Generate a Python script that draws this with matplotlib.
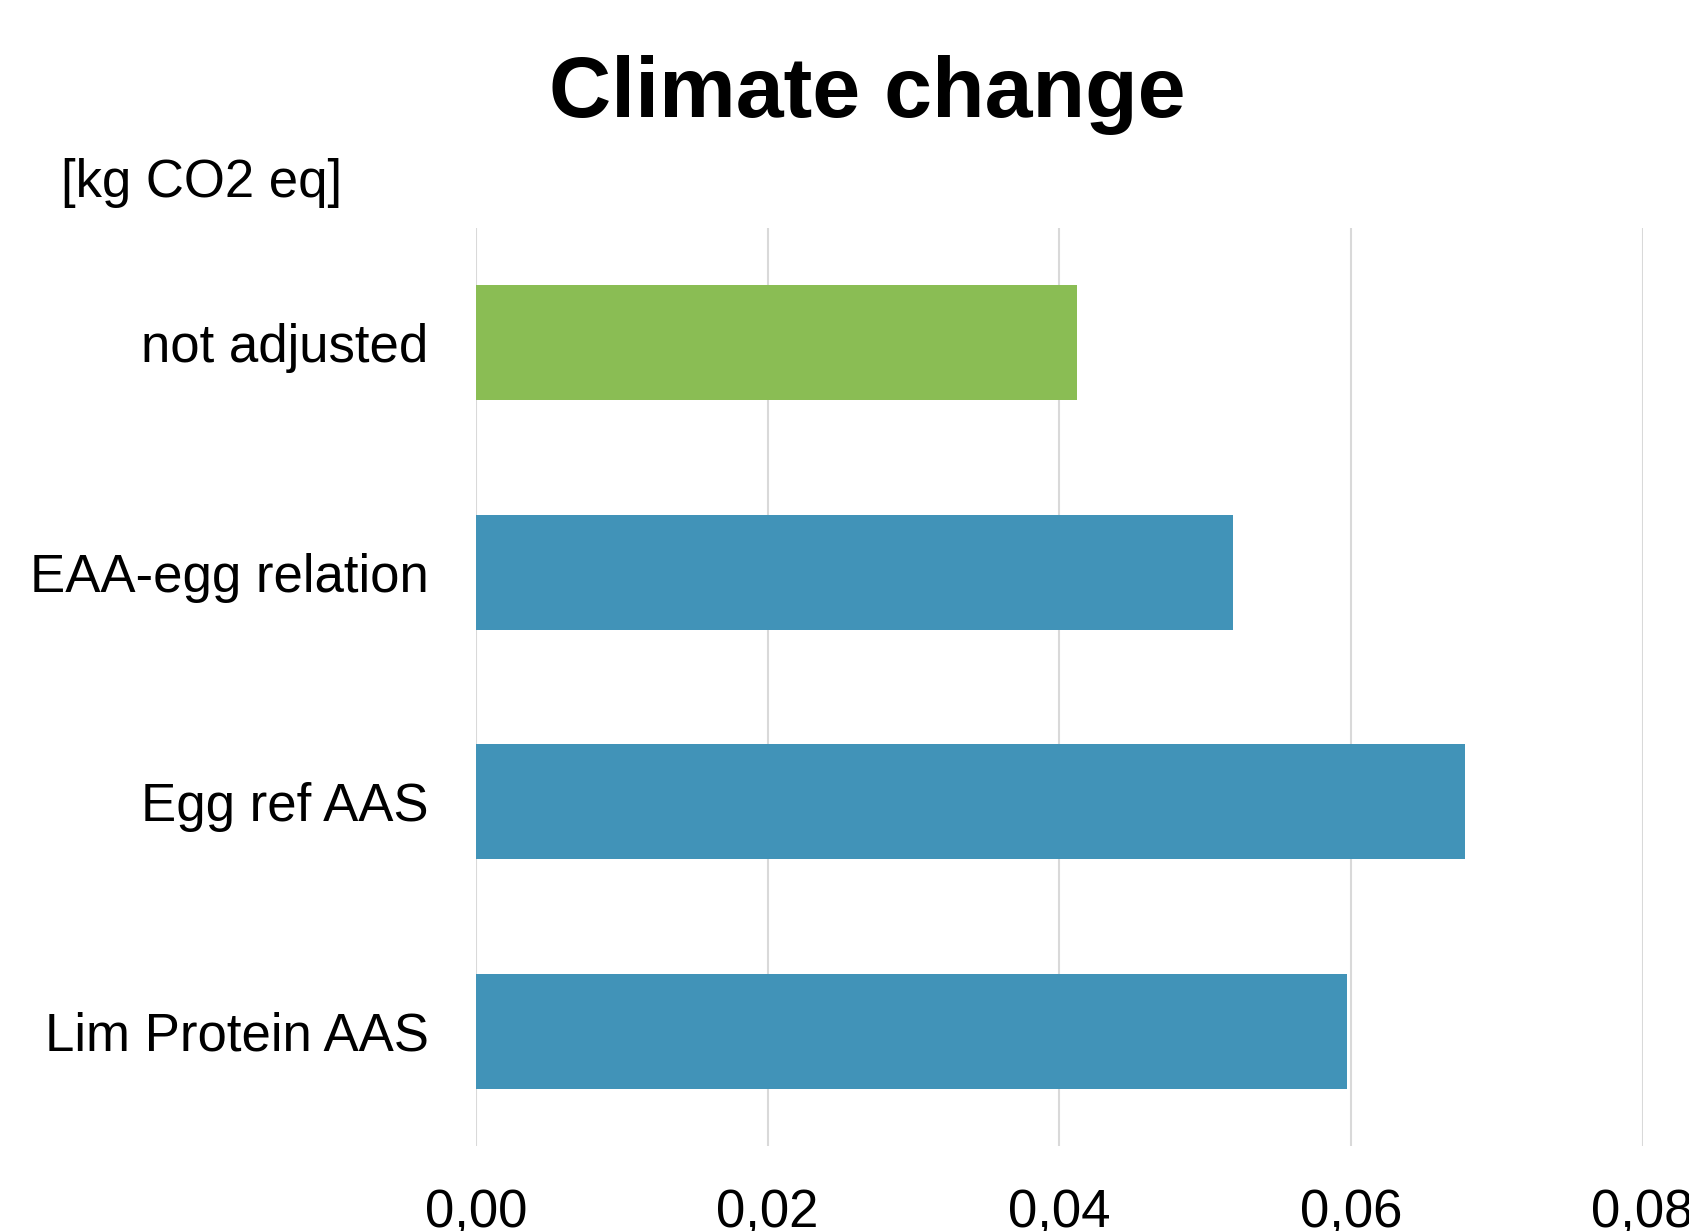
import matplotlib
matplotlib.use("Agg")
import matplotlib.pyplot as plt
from matplotlib.ticker import FuncFormatter

plt.rcParams['font.family'] = ['Liberation Sans', 'DejaVu Sans']

categories = ["not adjusted", "EAA-egg relation", "Egg ref AAS", "Lim Protein AAS"]
values = [0.0412, 0.0519, 0.0678, 0.0597]
bar_colors = ["#8ABD54", "#4193B8", "#4193B8", "#4193B8"]
x_ticks = [0.00, 0.02, 0.04, 0.06, 0.08]

fig = plt.figure(figsize=(16.9, 12.31), dpi=100)
ax = fig.add_axes([0.2816, 0.0691, 0.6904, 0.7457])

y = list(range(len(categories)))
ax.barh(y, values, height=0.5, color=bar_colors, zorder=3)

ax.set_xlim(0, 0.08)
ax.set_ylim(len(categories) - 0.5, -0.5)
ax.set_yticks(y)
ax.set_yticklabels(categories, fontsize=38)
ax.set_xticks(x_ticks)
ax.xaxis.set_major_formatter(FuncFormatter(lambda v, p: f"{v:.2f}".replace(".", ",")))
ax.tick_params(axis='x', labelsize=38, length=0, pad=30)
ax.tick_params(axis='y', length=0, pad=34)

for s in ax.spines.values():
    s.set_visible(False)
ax.grid(axis='x', color="#D9D9D9", linewidth=1.5, zorder=0)
ax.set_axisbelow(True)

fig.text(0.513, 0.905, "Climate change", ha='center', va='baseline',
         fontsize=62, fontweight='bold')
fig.text(0.036, 0.84, "[kg CO2 eq]", ha='left', va='baseline', fontsize=38)

fig.savefig("out.png", dpi=100)
